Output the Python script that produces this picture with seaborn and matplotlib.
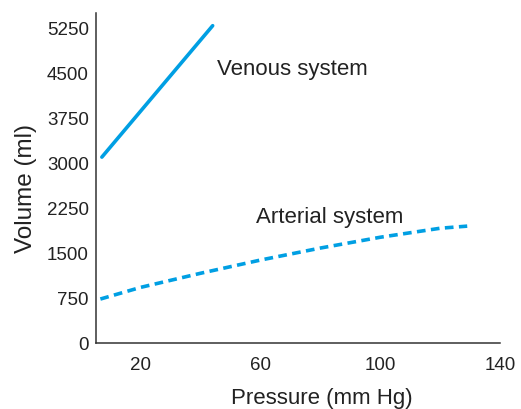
"""
Pressure-volume curves for venous and arterial systems
"""
import pandas as pd
import seaborn as sns
import matplotlib

matplotlib.use('Agg')
import matplotlib.pyplot as plt

# ==================== data ====================
venous_pressure = [7, 44]
venous_volume = [3100, 5290]

arterial_pressure = [6.5, 20, 40, 60, 80, 100, 120, 129]
arterial_volume = [735, 930, 1165, 1385, 1585, 1765, 1915, 1950]

y_ticks = [0, 750, 1500, 2250, 3000, 3750, 4500, 5250]
x_ticks = [20, 40, 60, 80, 100, 120, 140]
x_tick_labels = ['20', '', '60', '', '100', '', '140']

LINE_COLOR = '#009fe3'

sns.set_style('white')
plt.rcParams['font.family'] = ['Liberation Sans', 'DejaVu Sans']

venous = pd.DataFrame({'pressure': venous_pressure, 'volume': venous_volume})
arterial = pd.DataFrame({'pressure': arterial_pressure, 'volume': arterial_volume})

fig = plt.figure(figsize=(5.21, 4.09), dpi=100)
ax = fig.add_axes([0.184, 0.161, 0.776, 0.807])

sns.lineplot(data=venous, x='pressure', y='volume', color=LINE_COLOR,
             linewidth=2.6, ax=ax)
sns.lineplot(data=arterial, x='pressure', y='volume', color=LINE_COLOR,
             linewidth=2.6, ax=ax)
ax.lines[-1].set_dashes((2.4, 1.5))

ax.text(45.5, 4560, 'Venous system', fontsize=16, va='center', ha='left',
        color='#222222')
ax.text(58.5, 2100, 'Arterial system', fontsize=16, va='center', ha='left',
        color='#222222')

ax.set_xlim(5, 140)
ax.set_ylim(0, 5500)
ax.set_xticks(x_ticks)
ax.set_xticklabels(x_tick_labels)
ax.set_yticks(y_ticks)
ax.tick_params(axis='x', direction='in', length=5, width=1, color='#333333',
               labelsize=13.5, pad=10, labelcolor='#222222')
ax.tick_params(axis='y', direction='out', length=3, width=1, color='#333333',
               labelsize=13.5, pad=2, labelcolor='#222222')

ax.set_xlabel('Pressure (mm Hg)', fontsize=16, color='#222222')
ax.set_ylabel('Volume (ml)', fontsize=17.5, color='#222222')
ax.xaxis.set_label_coords(0.559, -0.135)
ax.yaxis.set_label_coords(-0.145, 0.47)

sns.despine(ax=ax)
for side in ['left', 'bottom']:
    ax.spines[side].set_color('#333333')
    ax.spines[side].set_linewidth(1.1)

fig.savefig('out.png', dpi=100)
plt.close('all')
